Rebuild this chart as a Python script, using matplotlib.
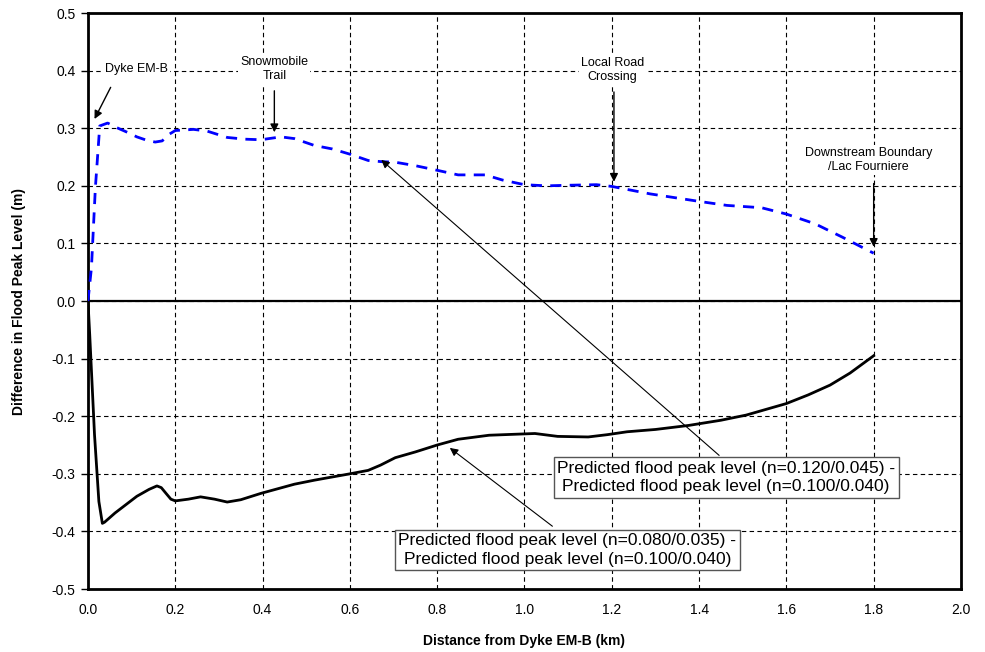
import matplotlib
matplotlib.use("Agg")
import matplotlib.pyplot as plt

plt.rcParams['font.family'] = ['Liberation Sans', 'DejaVu Sans']

# Blue dashed series: n=0.120/0.045 minus n=0.100/0.040
high_x = [0.0, 0.008, 0.017, 0.027, 0.045, 0.069, 0.09, 0.112, 0.135, 0.154, 0.17, 0.185, 0.2, 0.242, 0.273,
          0.319, 0.36, 0.396, 0.442, 0.473, 0.519, 0.56, 0.6, 0.642, 0.672, 0.704, 0.75, 0.8, 0.848, 0.91,
          0.95, 1.0, 1.05, 1.1, 1.165, 1.2, 1.288, 1.4, 1.464, 1.543, 1.6, 1.666, 1.728, 1.8]
high_y = [0.0, 0.058, 0.197, 0.304, 0.309, 0.300, 0.293, 0.285, 0.279, 0.276, 0.278, 0.289, 0.296, 0.298, 0.295,
          0.284, 0.281, 0.280, 0.285, 0.282, 0.270, 0.264, 0.255, 0.244, 0.242, 0.241, 0.235, 0.227, 0.219, 0.219,
          0.210, 0.202, 0.200, 0.201, 0.202, 0.199, 0.186, 0.173, 0.166, 0.162, 0.151, 0.134, 0.111, 0.083]

# Black solid series: n=0.080/0.035 minus n=0.100/0.040
low_x = [0.0, 0.004, 0.015, 0.025, 0.033, 0.038, 0.062, 0.112, 0.14, 0.158, 0.168, 0.18, 0.19, 0.2,
         0.23, 0.258, 0.29, 0.319, 0.35, 0.396, 0.473, 0.519, 0.6, 0.642, 0.67, 0.704, 0.75, 0.8, 0.848, 0.919, 1.024,
         1.076, 1.146, 1.19, 1.235, 1.3, 1.376, 1.45, 1.508, 1.6, 1.65, 1.70, 1.746, 1.8]
low_y = [0.0, -0.058, -0.232, -0.348, -0.386, -0.384, -0.368, -0.339, -0.327, -0.321, -0.324, -0.335, -0.344, -0.347,
         -0.344, -0.340, -0.344, -0.349, -0.345, -0.334, -0.318, -0.311, -0.300, -0.294, -0.285, -0.272, -0.262, -0.250, -0.240, -0.233, -0.230,
         -0.235, -0.236, -0.232, -0.227, -0.223, -0.216, -0.207, -0.198, -0.178, -0.163, -0.146, -0.125, -0.095]

x_ticks = [0.0, 0.2, 0.4, 0.6, 0.8, 1.0, 1.2, 1.4, 1.6, 1.8, 2.0]
y_ticks = [0.5, 0.4, 0.3, 0.2, 0.1, 0.0, -0.1, -0.2, -0.3, -0.4, -0.5]

x_label = "Distance from Dyke EM-B (km)"
y_label = "Difference in Flood Peak Level (m)"

site_labels = ["Dyke EM-B", "Snowmobile\nTrail", "Local Road\nCrossing", "Downstream Boundary\n/Lac Fourniere"]
site_text_xy = [(0.112, 0.403), (0.427, 0.403), (1.202, 0.401), (1.788, 0.245)]
site_arrow_from = [(0.052, 0.371), (0.427, 0.365), (1.205, 0.363), (1.8, 0.204)]
site_arrow_to = [(0.015, 0.316), (0.427, 0.293), (1.205, 0.207), (1.8, 0.094)]

callout_high = "Predicted flood peak level (n=0.120/0.045) -\nPredicted flood peak level (n=0.100/0.040)"
callout_low = "Predicted flood peak level (n=0.080/0.035) -\nPredicted flood peak level (n=0.100/0.040)"

fig = plt.figure(figsize=(9.85, 6.52), dpi=100)
ax = fig.add_axes([0.0893, 0.0966, 0.8863, 0.8834])

ax.set_xlim(0, 2.0)
ax.set_ylim(-0.5, 0.5)
ax.set_xticks(x_ticks)
ax.set_yticks(y_ticks)
ax.set_xticklabels([f"{v:.1f}" for v in x_ticks], fontsize=10)
ax.set_yticklabels([f"{v:.1f}" for v in y_ticks], fontsize=10)
ax.tick_params(axis='x', length=0, pad=10)
ax.tick_params(axis='y', length=5, width=1, direction='out', pad=4)

ax.grid(True, color='black', linestyle=(0, (4, 3)), linewidth=0.8)
ax.set_axisbelow(True)
for s in ax.spines.values():
    s.set_linewidth(2)
    s.set_color('black')

ax.axhline(0, color='black', linewidth=1.6, zorder=2)

ax.plot(low_x, low_y, color='black', linewidth=2.0, zorder=3, solid_joinstyle='round')
ax.plot(high_x, high_y, color='#0000FF', linewidth=2.0, linestyle=(0, (4, 3)), zorder=3)

ax.set_xlabel(x_label, fontsize=10, fontweight='bold', labelpad=12)
ax.set_ylabel(y_label, fontsize=10, fontweight='bold', labelpad=18)

for lab, txy, a0, a1 in zip(site_labels, site_text_xy, site_arrow_from, site_arrow_to):
    ax.text(txy[0], txy[1], lab, fontsize=9, ha='center', va='center',
            linespacing=1.2, bbox=dict(facecolor='white', edgecolor='none', pad=1.5), zorder=5)
    ax.annotate("", xy=a1, xytext=a0,
                arrowprops=dict(arrowstyle='-|>', color='black', lw=1.0,
                                mutation_scale=12, shrinkA=0, shrinkB=0), zorder=5)

ax.annotate("", xy=(0.672, 0.245), xytext=(1.446, -0.268),
            arrowprops=dict(arrowstyle='-|>', color='black', lw=0.8, mutation_scale=12,
                            shrinkA=0, shrinkB=0), zorder=4)
ax.annotate("", xy=(0.829, -0.255), xytext=(1.064, -0.391),
            arrowprops=dict(arrowstyle='-|>', color='black', lw=0.8, mutation_scale=12,
                            shrinkA=0, shrinkB=0), zorder=4)

ax.text(1.462, -0.3065, callout_high, fontsize=12.5, ha='center', va='center', linespacing=1.28,
        bbox=dict(facecolor='white', edgecolor='#555555', linewidth=1.0, boxstyle='square,pad=0.2'),
        zorder=6)
ax.text(1.098, -0.432, callout_low, fontsize=12.5, ha='center', va='center', linespacing=1.28,
        bbox=dict(facecolor='white', edgecolor='#555555', linewidth=1.0, boxstyle='square,pad=0.2'),
        zorder=6)

fig.savefig("out.png", dpi=100)
